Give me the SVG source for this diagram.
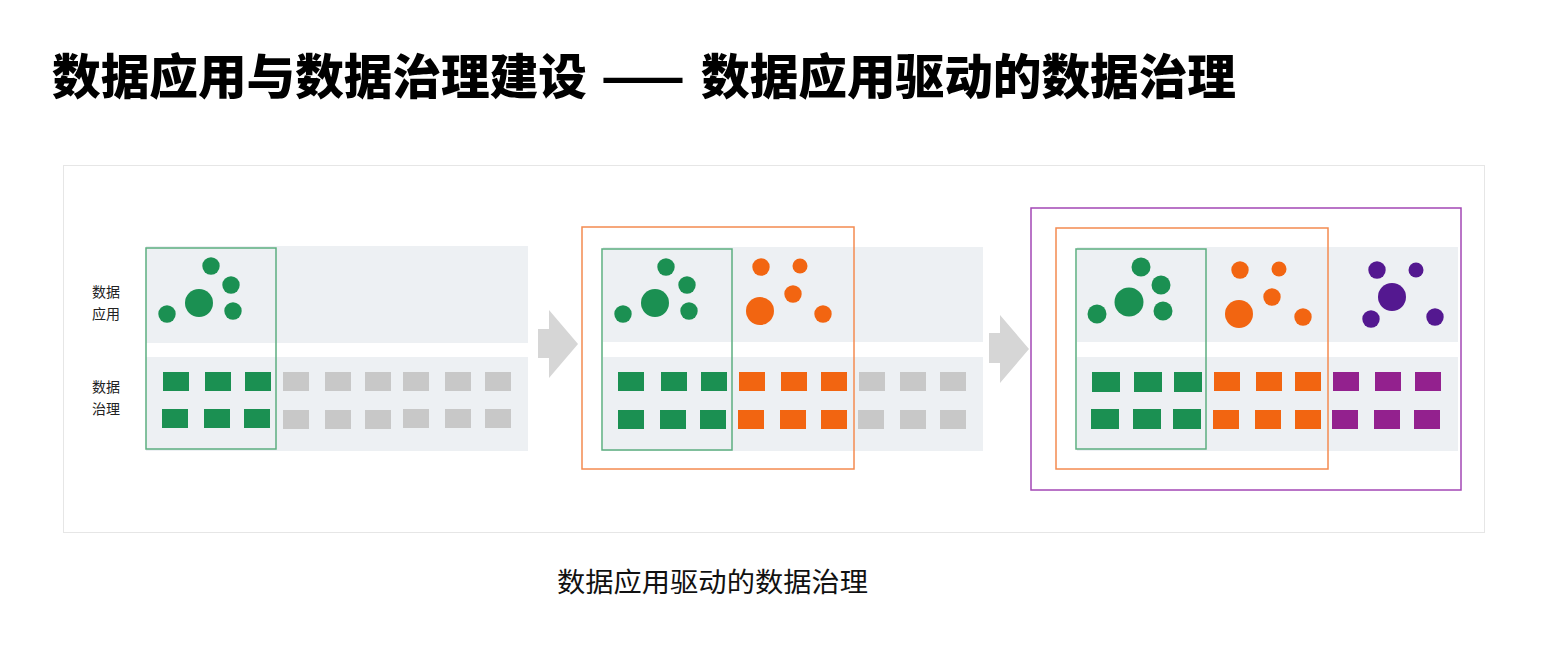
<svg xmlns="http://www.w3.org/2000/svg" width="1554" height="650" viewBox="0 0 1554 650">
<style>
.band{fill:#edf0f3}
.g{fill:#1b9052}
.o{fill:#f26511}
.p{fill:#93218e}
.pc{fill:#541890}
.gr{fill:#c8c8c8}
.gbox{fill:none;stroke:#5cae80;stroke-width:1.5}
.obox{fill:none;stroke:#f48b50;stroke-width:1.5}
.pbox{fill:none;stroke:#a347b5;stroke-width:1.5}
.lbl{font-family:"Noto Sans CJK SC","Noto Sans",sans-serif;font-size:14px;fill:#222}
.arrow{fill:#d6d6d6}
</style>
<rect width="1554" height="650" fill="#ffffff"/>
<g id="title">
<text font-family="'Noto Sans CJK SC',sans-serif" font-weight="900" font-size="48" fill="#000" y="94"><tspan x="52" textLength="535" lengthAdjust="spacingAndGlyphs">数据应用与数据治理建设</tspan> <tspan x="601" textLength="84" lengthAdjust="spacingAndGlyphs">——</tspan> <tspan x="701" textLength="535" lengthAdjust="spacingAndGlyphs">数据应用驱动的数据治理</tspan></text>
</g>
<g id="frame"><rect x="63.5" y="165.5" width="1421" height="367" fill="none" stroke="#e6e6e6" stroke-width="1"/></g>

<g id="labels">
<text class="lbl" x="92" y="297">数据</text>
<text class="lbl" x="92" y="319">应用</text>
<text class="lbl" x="92" y="392">数据</text>
<text class="lbl" x="92" y="414">治理</text>
</g>

<g id="panel1">
<rect class="band" x="146" y="246" width="382" height="97"/>
<rect class="band" x="146" y="357" width="382" height="94"/>
<g id="p1-apps">
<circle class="g" cx="211" cy="266" r="8.7"/>
<circle class="g" cx="231" cy="285" r="8.7"/>
<circle class="g" cx="199" cy="303" r="14"/>
<circle class="g" cx="167" cy="314" r="8.7"/>
<circle class="g" cx="233" cy="311" r="8.7"/>
</g>
<g id="p1-gov">
<rect class="g" x="163" y="372" width="26" height="19"/><rect class="g" x="205" y="372" width="26" height="19"/><rect class="g" x="245" y="372" width="26" height="19"/>
<rect class="gr" x="283" y="372" width="26" height="19"/><rect class="gr" x="325" y="372" width="26" height="19"/><rect class="gr" x="365" y="372" width="26" height="19"/>
<rect class="gr" x="403" y="372" width="26" height="19"/><rect class="gr" x="445" y="372" width="26" height="19"/><rect class="gr" x="485" y="372" width="26" height="19"/>
<rect class="g" x="162" y="409" width="26" height="19"/><rect class="g" x="204" y="409" width="26" height="19"/><rect class="g" x="244" y="409" width="26" height="19"/>
<rect class="gr" x="283" y="410" width="26" height="19"/><rect class="gr" x="325" y="410" width="26" height="19"/><rect class="gr" x="365" y="410" width="26" height="19"/>
<rect class="gr" x="403" y="409" width="26" height="19"/><rect class="gr" x="445" y="409" width="26" height="19"/><rect class="gr" x="485" y="409" width="26" height="19"/>
</g>
<rect id="p1-green-box" class="gbox" x="146" y="248" width="130" height="201"/>
</g>

<g id="panel2">
<rect class="band" x="603" y="247" width="380" height="95"/>
<rect class="band" x="603" y="357" width="380" height="94"/>
<g id="p2-apps">
<circle class="g" cx="666" cy="267" r="8.7"/>
<circle class="g" cx="687" cy="285" r="8.7"/>
<circle class="g" cx="655" cy="303" r="14"/>
<circle class="g" cx="623" cy="314" r="8.7"/>
<circle class="g" cx="689" cy="311" r="8.7"/>
<circle class="o" cx="761" cy="267" r="8.7"/>
<circle class="o" cx="800" cy="266" r="7.5"/>
<circle class="o" cx="793" cy="294" r="8.7"/>
<circle class="o" cx="760" cy="311" r="14"/>
<circle class="o" cx="823" cy="314" r="8.7"/>
</g>
<g id="p2-gov">
<rect class="g" x="618" y="372" width="26" height="19"/><rect class="g" x="661" y="372" width="26" height="19"/><rect class="g" x="701" y="372" width="26" height="19"/>
<rect class="o" x="739" y="372" width="26" height="19"/><rect class="o" x="781" y="372" width="26" height="19"/><rect class="o" x="821" y="372" width="26" height="19"/>
<rect class="gr" x="859" y="372" width="26" height="19"/><rect class="gr" x="900" y="372" width="26" height="19"/><rect class="gr" x="940" y="372" width="26" height="19"/>
<rect class="g" x="618" y="410" width="26" height="19"/><rect class="g" x="660" y="410" width="26" height="19"/><rect class="g" x="700" y="410" width="26" height="19"/>
<rect class="o" x="738" y="410" width="26" height="19"/><rect class="o" x="780" y="410" width="26" height="19"/><rect class="o" x="821" y="410" width="26" height="19"/>
<rect class="gr" x="858" y="410" width="26" height="19"/><rect class="gr" x="900" y="410" width="26" height="19"/><rect class="gr" x="940" y="410" width="26" height="19"/>
</g>
<rect id="p2-green-box" class="gbox" x="602" y="249" width="130" height="201"/>
<rect id="p2-orange-box" class="obox" x="582" y="227" width="272" height="242"/>
</g>

<g id="panel3">
<rect class="band" x="1077" y="247" width="381" height="95"/>
<rect class="band" x="1077" y="357" width="381" height="94"/>
<g id="p3-apps">
<circle class="g" cx="1141" cy="267" r="9.5"/>
<circle class="g" cx="1161" cy="285" r="9.5"/>
<circle class="g" cx="1129" cy="302" r="14.5"/>
<circle class="g" cx="1097" cy="314" r="9.5"/>
<circle class="g" cx="1163" cy="311" r="9.5"/>
<circle class="o" cx="1240" cy="270" r="8.7"/>
<circle class="o" cx="1279" cy="269" r="7.5"/>
<circle class="o" cx="1272" cy="297" r="8.7"/>
<circle class="o" cx="1239" cy="314" r="14"/>
<circle class="o" cx="1303" cy="317" r="8.7"/>
<circle class="pc" cx="1377" cy="270" r="8.7"/>
<circle class="pc" cx="1416" cy="270" r="7.5"/>
<circle class="pc" cx="1392" cy="297" r="14"/>
<circle class="pc" cx="1371" cy="319" r="8.7"/>
<circle class="pc" cx="1435" cy="317" r="8.7"/>
</g>
<g id="p3-gov">
<rect class="g" x="1092" y="372" width="28" height="20"/><rect class="g" x="1134" y="372" width="28" height="20"/><rect class="g" x="1174" y="372" width="28" height="20"/>
<rect class="o" x="1214" y="372" width="26" height="19"/><rect class="o" x="1256" y="372" width="26" height="19"/><rect class="o" x="1295" y="372" width="26" height="19"/>
<rect class="p" x="1333" y="372" width="26" height="19"/><rect class="p" x="1375" y="372" width="26" height="19"/><rect class="p" x="1415" y="372" width="26" height="19"/>
<rect class="g" x="1091" y="409" width="28" height="20"/><rect class="g" x="1133" y="409" width="28" height="20"/><rect class="g" x="1173" y="409" width="28" height="20"/>
<rect class="o" x="1213" y="410" width="26" height="19"/><rect class="o" x="1255" y="410" width="26" height="19"/><rect class="o" x="1295" y="410" width="26" height="19"/>
<rect class="p" x="1332" y="410" width="26" height="19"/><rect class="p" x="1374" y="410" width="26" height="19"/><rect class="p" x="1414" y="410" width="26" height="19"/>
</g>
<rect id="p3-green-box" class="gbox" x="1076" y="249" width="130" height="200"/>
<rect id="p3-orange-box" class="obox" x="1056" y="228" width="272" height="241"/>
<rect id="p3-purple-box" class="pbox" x="1031" y="208" width="430" height="282"/>
</g>

<g id="connectors">
<polygon class="arrow" points="538,329 549,329 549,310 578,344 549,378 549,358 538,358"/>
<polygon class="arrow" points="989,333 1000,333 1000,315 1029,349 1000,383 1000,363 989,363"/>
</g>

<g id="caption">
<text x="712.5" y="592" text-anchor="middle" font-family="'Noto Sans CJK SC',sans-serif" font-weight="400" font-size="27" fill="#111" textLength="311" lengthAdjust="spacingAndGlyphs">数据应用驱动的数据治理</text>
</g>
</svg>
